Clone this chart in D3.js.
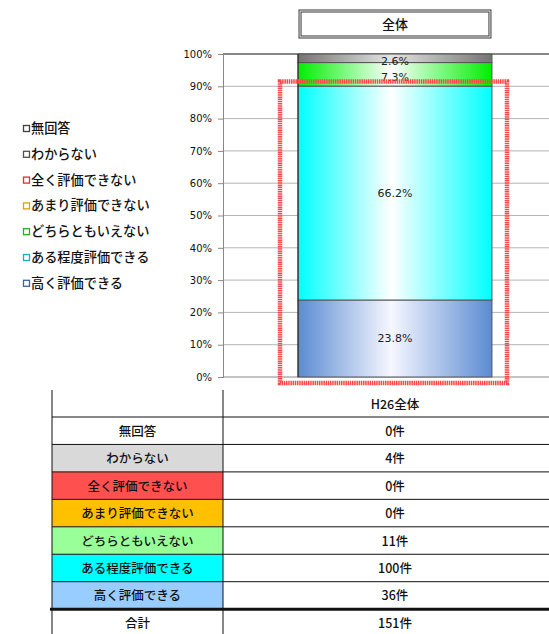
<!DOCTYPE html>
<html><head><meta charset="utf-8">
<script src="https://cdn.jsdelivr.net/npm/d3@7/dist/d3.min.js"></script>
<style>
body{margin:0;background:#fff;}
svg{display:block;}
</style></head>
<body>
<svg id="c" width="549" height="634"></svg>
<script>
// ---- data ----
const categories = ["無回答","わからない","全く評価できない","あまり評価できない","どちらともいえない","ある程度評価できる","高く評価できる"];
const counts = [0, 4, 0, 0, 11, 100, 36];
const groupLabel = "全体";
const tableHeader = "H26全体";
const totalLabel = "合計";
const unit = "件";
const yTickValues = [0,0.1,0.2,0.3,0.4,0.5,0.6,0.7,0.8,0.9,1.0];
// colours
const legendStroke = ["#404040","#505050","#e03030","#e0a000","#20b020","#20b0b0","#4060a0"];
const barEdge = ["#ffffff","#747474","#ff3030","#ffc000","#00ee00","#00ffff","#5b8bd2"];
const barMid  = ["#ffffff","#e4e4e4","#ffffff","#ffffff","#ffffff","#ffffff","#f6f7ff"];
const tableFill = ["#ffffff","#d9d9d9","#ff5050","#ffc000","#99ff99","#00ffff","#99ccff"];

const svg = d3.select("#c");
const JP = "'Noto Sans CJK JP','Noto Sans',sans-serif";
const NUM = "'DejaVu Sans',sans-serif";

const total = d3.sum(counts);
const y = d3.scaleLinear().domain([0,1]).range([377,54]);
const x = d3.scaleBand().domain([groupLabel]).range([223,567]).paddingInner(0.279).paddingOuter(0.279);

// gradients
const defs = svg.append("defs");
categories.forEach((c,i)=>{
  const g = defs.append("linearGradient").attr("id","g"+i).attr("x1","0%").attr("x2","100%").attr("y1","0%").attr("y2","0%");
  g.append("stop").attr("offset","0%").attr("stop-color",barEdge[i]);
  g.append("stop").attr("offset","48%").attr("stop-color",barMid[i]);
  g.append("stop").attr("offset","100%").attr("stop-color",barEdge[i]);
});

// gridlines
svg.append("g").selectAll("line").data(yTickValues.filter(v=>v>0 && v<1)).join("line")
  .attr("x1",223).attr("x2",549).attr("y1",d=>y(d)).attr("y2",d=>y(d))
  .attr("stroke","#b4b4b4").attr("stroke-width",1);
svg.append("line").attr("x1",223).attr("x2",549).attr("y1",y(1)).attr("y2",y(1)).attr("stroke","#111").attr("stroke-width",1);
svg.append("line").attr("x1",223).attr("x2",549).attr("y1",y(0)).attr("y2",y(0)).attr("stroke","#888").attr("stroke-width",1);

// axis
const ax = svg.append("g").attr("transform","translate(223,0)")
  .call(d3.axisLeft(y).tickValues(yTickValues).tickFormat(d3.format(".0%")).tickSize(5).tickPadding(6));
ax.select(".domain").attr("stroke","#888");
ax.selectAll(".tick line").attr("stroke","#888");
ax.selectAll("text").attr("font-family",NUM).attr("font-size",10).attr("fill","#111");

// stacked bar (bottom = last category)
const row = {};
categories.forEach((c,i)=>row[c]=counts[i]/total);
const order = categories.slice().reverse();
const series = d3.stack().keys(order)([row]);
const bars = svg.append("g");
series.forEach(s=>{
  const i = categories.indexOf(s.key);
  const d = s[0];
  const h = y(d[0]) - y(d[1]);
  if (h <= 0) return;
  bars.append("rect").attr("x",x(groupLabel)).attr("width",x.bandwidth())
    .attr("y",y(d[1])).attr("height",h)
    .attr("fill","url(#g"+i+")").attr("stroke","#555").attr("stroke-width",1);
});
svg.append("line").attr("x1",x(groupLabel)).attr("x2",x(groupLabel)).attr("y1",y(1)).attr("y2",y(0)).attr("stroke","#222");
// labels
series.forEach(s=>{
  const d = s[0];
  const v = d[1]-d[0];
  if (v <= 0) return;
  const small = (y(d[0])-y(d[1])) < 30;
  svg.append("text").attr("x",x(groupLabel)+x.bandwidth()/2).attr("y",(y(d[0])+y(d[1]))/2 + (small?6.5:4))
    .attr("text-anchor","middle").attr("font-family",NUM).attr("font-size",11).attr("fill","#222")
    .text(d3.format(".1%")(v));
});

// title box
const tb = svg.append("g");
tb.append("rect").attr("x",x(groupLabel)+1).attr("y",10).attr("width",x.bandwidth()-2).attr("height",28).attr("fill","#fff").attr("stroke","#333").attr("stroke-width",1);
tb.append("rect").attr("x",x(groupLabel)+3).attr("y",12).attr("width",x.bandwidth()-6).attr("height",24).attr("fill","none").attr("stroke","#333").attr("stroke-width",1);
tb.append("text").attr("x",x(groupLabel)+x.bandwidth()/2).attr("y",29).attr("text-anchor","middle")
  .attr("font-family",JP).attr("font-size",13).attr("font-weight",500).attr("fill","#111").text(groupLabel);

// legend
const lg = svg.append("g");
categories.forEach((c,i)=>{
  const cy = 128 + i*25.8;
  lg.append("rect").attr("x",23.5).attr("y",cy-2.5).attr("width",6).attr("height",6).attr("fill","#fff").attr("stroke",legendStroke[i]).attr("stroke-width",1.3);
  lg.append("text").attr("x",31).attr("y",cy+5).attr("font-family",JP).attr("font-size",13.2).attr("font-weight",500).attr("fill","#111").text(c);
});

// red annotation frame
svg.append("rect").attr("x",280).attr("y",81.5).attr("width",227).attr("height",301.5)
  .attr("fill","none").attr("stroke","#ff4545").attr("stroke-width",4.5).attr("stroke-dasharray","1.5,0.7");

// table
const t = svg.append("g");
const rowTop = 417, rowH = 27.45, colL = 52, colM = 223, colR = 567;
categories.forEach((c,i)=>{
  const ty = rowTop + i*rowH;
  t.append("rect").attr("x",colL).attr("y",ty).attr("width",colM-colL).attr("height",rowH).attr("fill",tableFill[i]);
  t.append("text").attr("x",(colL+colM)/2).attr("y",ty+rowH/2+5).attr("text-anchor","middle")
    .attr("font-family",JP).attr("font-size",12.5).attr("font-weight",500).attr("fill","#111").text(c);
  t.append("text").attr("x",(colM+colR)/2).attr("y",ty+rowH/2+5).attr("text-anchor","middle")
    .attr("font-family",JP).attr("font-size",12.5).attr("font-weight",500).attr("fill","#111").text(counts[i]+unit);
});
const totTop = rowTop + categories.length*rowH;
t.append("text").attr("x",(colL+colM)/2).attr("y",totTop+rowH/2+5).attr("text-anchor","middle")
  .attr("font-family",JP).attr("font-size",12.5).attr("font-weight",500).attr("fill","#111").text(totalLabel);
t.append("text").attr("x",(colM+colR)/2).attr("y",totTop+rowH/2+5).attr("text-anchor","middle")
  .attr("font-family",JP).attr("font-size",12.5).attr("font-weight",500).attr("fill","#111").text(total+unit);
t.append("text").attr("x",(colM+colR)/2).attr("y",390+(rowTop-390)/2+5).attr("text-anchor","middle")
  .attr("font-family",JP).attr("font-size",12.5).attr("font-weight",500).attr("fill","#111").text(tableHeader);
for (let i=0;i<categories.length;i++){
  const ty = rowTop + i*rowH;
  t.append("line").attr("x1",colL).attr("x2",549).attr("y1",ty).attr("y2",ty).attr("stroke","#111").attr("stroke-width",1);
}
t.append("line").attr("x1",colL-2).attr("x2",549).attr("y1",totTop).attr("y2",totTop).attr("stroke","#111").attr("stroke-width",3);
t.append("line").attr("x1",colL).attr("x2",colL).attr("y1",390).attr("y2",634).attr("stroke","#111");
t.append("line").attr("x1",colM).attr("x2",colM).attr("y1",390).attr("y2",634).attr("stroke","#111");
</script>
</body></html>
